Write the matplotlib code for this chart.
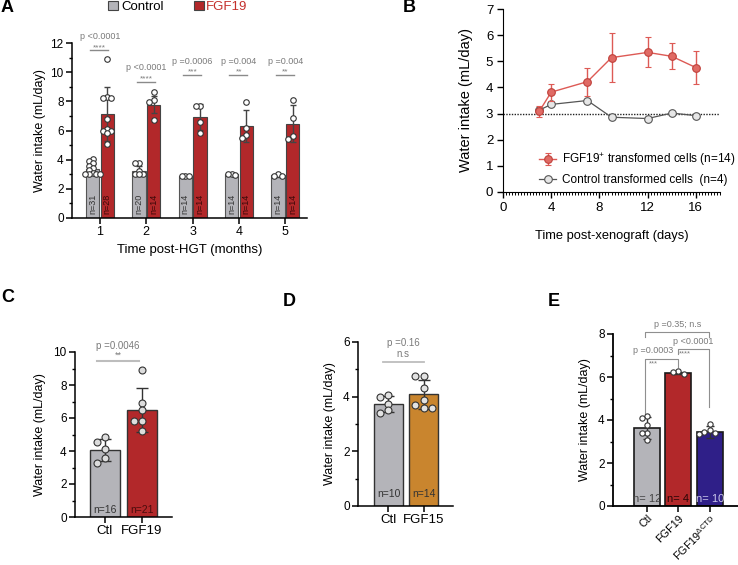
import matplotlib
import numpy as np

matplotlib.use('Agg')
from matplotlib import pyplot as plt
from matplotlib.ticker import MultipleLocator
from matplotlib.patches import Patch

plt.rcParams['font.family'] = ['Liberation Sans', 'DejaVu Sans']
plt.rcParams['mathtext.fontset'] = 'custom'
plt.rcParams['mathtext.rm'] = 'Liberation Sans'
plt.rcParams['mathtext.it'] = 'Liberation Sans:italic'
plt.rcParams['mathtext.bf'] = 'Liberation Sans:bold'

# ---- panel A : water intake after HGT
months = [1, 2, 3, 4, 5]
ctl_mean_a = [3.38, 3.25, 2.88, 3.02, 2.92]
ctl_sd_a = [0.35, 0.35, 0.08, 0.08, 0.08]
fgf_mean_a = [7.13, 7.77, 6.95, 6.32, 6.47]
fgf_sd_a = [1.85, 0.6, 0.9, 1.1, 1.25]
ctl_n_a = [31, 20, 14, 14, 14]
fgf_n_a = [28, 14, 14, 14, 14]
ctl_dots_a = [[4.05, 3.9, 3.75, 3.6, 3.45, 3.3, 3.1, 3.0, 3.0, 3.0, 3.0],
              [3.75, 3.75, 3.2, 3.05, 3.0, 3.05],
              [2.85, 2.9, 2.9],
              [3.0, 3.05, 2.95],
              [2.85, 3.0, 2.9]]
fgf_dots_a = [[10.9, 8.3, 8.2, 8.2, 6.8, 6.1, 6.0, 6.0, 5.8, 5.1],
              [8.65, 8.1, 7.95, 6.75],
              [7.7, 7.7, 6.55, 5.8],
              [7.95, 6.15, 5.5, 5.7],
              [8.1, 6.85, 5.4, 5.6]]
p_a = ['p <0.0001', 'p <0.0001', 'p =0.0006', 'p =0.004', 'p =0.004']
stars_a = ['****', '****', '***', '**', '**']

# ---- panel B : time course after xenograft
days = [3, 4, 7, 9, 12, 14, 16]
fgf_b = [3.08, 3.82, 4.22, 5.14, 5.34, 5.19, 4.76]
fgf_sd_b = [0.2, 0.32, 0.54, 0.94, 0.57, 0.5, 0.64]
ctl_b = [3.13, 3.35, 3.5, 2.86, 2.81, 3.02, 2.92]

# ---- panel C
groups_c = ['Ctl', 'FGF19']
mean_c = [4.05, 6.47]
sd_c = [0.68, 1.33]
n_c = [16, 21]
dots_c = [[4.85, 4.55, 4.1, 3.55, 3.3],
          [8.9, 6.9, 6.5, 5.8, 5.8, 5.2]]

# ---- panel D
groups_d = ['Ctl', 'FGF15']
mean_d = [3.72, 4.08]
sd_d = [0.29, 0.52]
n_d = [10, 14]
dots_d = [[3.99, 4.06, 3.72, 3.41, 3.5],
          [4.74, 4.74, 4.32, 3.6, 3.68, 3.6, 3.87]]

# ---- panel E
groups_e = ['Ctl', 'FGF19', r'FGF19$^{\Delta\mathrm{CTD}}$']
mean_e = [3.63, 6.19, 3.44]
sd_e = [0.5, 0.05, 0.3]
n_e = [12, 4, 10]
dots_e = [[4.1, 4.19, 3.75, 3.41, 3.41, 3.09],
          [6.12, 6.23, 6.28],
          [3.4, 3.52, 3.8, 3.43, 3.36]]

grey = '#b4b4b9'
red = '#b2282a'
orange = '#c9852e'
blue = '#2f1f88'
ptxt = '#7a7a7a'

W, H = 738, 565


def px_axes(fig, x0, x1, y_top, y_bot):
    return fig.add_axes([x0 / W, 1 - y_bot / H, (x1 - x0) / W, (y_bot - y_top) / H])


def swarm(values, step, tol):
    placed = []
    offs = []
    cands = [0.0]
    for i in range(1, 8):
        cands += [-i * step, i * step]
    for v in sorted(values, reverse=True):
        for c in cands:
            if all(abs(c - px) >= step * 0.95 or abs(v - py) >= tol for px, py in placed):
                break
        placed.append((c, v))
        offs.append(c)
    return np.array(offs), np.array(sorted(values, reverse=True))


def style_axis(ax, major, minor, fs=8.5):
    for s in ['top', 'right']:
        ax.spines[s].set_visible(False)
    for s in ['left', 'bottom']:
        ax.spines[s].set_linewidth(1.1)
    ax.yaxis.set_major_locator(MultipleLocator(major))
    ax.yaxis.set_minor_locator(MultipleLocator(minor))
    ax.tick_params(axis='y', which='major', length=4, width=1.1, labelsize=fs, pad=2)
    ax.tick_params(axis='y', which='minor', length=2, width=1.0)
    ax.tick_params(axis='x', which='major', length=4, width=1.1, labelsize=9, pad=2)


def dots(ax, x, vals, step, tol, ms=4, fc='white'):
    o, v = swarm(vals, step, tol)
    ax.plot(x + o, v, 'o', ms=ms, mfc=fc, mec='#333333', mew=0.8, zorder=5, clip_on=False)


fig = plt.figure(figsize=(W / 100, H / 100), dpi=100, facecolor='white')

# ================= A
ax = px_axes(fig, 72, 307, 43, 218)
pos = np.array(months, dtype=float)
bw = 0.29
xc = pos - 0.155
xf = pos + 0.16
ax.bar(xc, ctl_mean_a, width=bw, color=grey, edgecolor='#555555', linewidth=0.8, zorder=2)
ax.bar(xf, fgf_mean_a, width=bw, color=red, edgecolor='#444444', linewidth=0.8, zorder=2)
ax.errorbar(xc, ctl_mean_a, yerr=ctl_sd_a, fmt='none', ecolor='#444444', elinewidth=1, capsize=2.5, zorder=3)
ax.errorbar(xf, fgf_mean_a, yerr=fgf_sd_a, fmt='none', ecolor='#444444', elinewidth=1, capsize=2.5, zorder=3)
for i in range(len(months)):
    dots(ax, xc[i], ctl_dots_a[i], 0.08, 0.16)
    dots(ax, xf[i], fgf_dots_a[i], 0.09, 0.22)
    ax.text(xc[i], 0.3, 'n=%d' % ctl_n_a[i], rotation=90, ha='center', va='bottom', fontsize=6.5, color='#333333', zorder=6)
    ax.text(xf[i], 0.3, 'n=%d' % fgf_n_a[i], rotation=90, ha='center', va='bottom', fontsize=6.5, color='#3a0808', zorder=6)
sig_y_a = [11.5, 9.35, 9.8, 9.8, 9.8]
for i in range(len(months)):
    y = sig_y_a[i]
    ax.plot([xc[i] - 0.05, xf[i] + 0.02], [y, y], color='#8a8a8a', lw=1, clip_on=False)
    ax.text(pos[i], y - 0.05, stars_a[i], ha='center', va='bottom', fontsize=6, color=ptxt)
    ax.text(pos[i], y + 0.65, p_a[i], ha='center', va='bottom', fontsize=6.5, color=ptxt, clip_on=False)
ax.set_xlim(0.4, 5.47)
ax.set_ylim(0, 12)
style_axis(ax, 2, 1)
ax.set_xticks(pos)
ax.set_xticklabels([str(m) for m in months], fontsize=9)
ax.set_ylabel('Water intake (mL/day)', fontsize=9, labelpad=3)
ax.set_xlabel('Time post-HGT (months)', fontsize=9.5, labelpad=4)
leg = fig.legend(handles=[Patch(facecolor=grey, edgecolor='#444444', lw=0.8),
                          Patch(facecolor=red, edgecolor='#444444', lw=0.8)],
                 labels=['Control', 'FGF19'], loc='center', bbox_to_anchor=(178 / W, 1 - 7 / H),
                 ncol=2, frameon=False, fontsize=9.5, handlelength=0.75, handleheight=0.75,
                 handletextpad=0.2, columnspacing=2.3, borderpad=0)
leg.get_texts()[1].set_color('#c4302c')

# ================= B
ax = px_axes(fig, 503, 720, 9, 192)
ax.axhline(3, color='#222222', lw=1, ls=(0, (1, 1)), zorder=1)
ax.plot(days, ctl_b, '-o', color='#555555', lw=0.9, ms=5.5, mfc='#e6e6e6', mec='#555555', mew=0.8,
        zorder=3, label='Control transformed cells  (n=4)')
ax.errorbar(days, fgf_b, yerr=fgf_sd_b, fmt='-o', color='#dd5a55', lw=1, ms=5.5, mfc='#e06a64', mec='#c0403a',
            mew=0.8, ecolor='#dd5a55', elinewidth=1, capsize=2.5, zorder=4,
            label='FGF19$^{+}$ transformed cells (n=14)')
ax.set_xlim(0, 18)
ax.set_ylim(0, 7)
for s in ['top', 'right']:
    ax.spines[s].set_visible(False)
ax.xaxis.set_major_locator(MultipleLocator(4))
ax.xaxis.set_minor_locator(MultipleLocator(0.25))
ax.yaxis.set_major_locator(MultipleLocator(1))
ax.tick_params(which='major', length=4, width=1, labelsize=9.5, pad=3)
ax.tick_params(which='minor', length=2, width=0.7)
ax.set_xticks(range(0, 17, 4))
ax.set_ylabel('Water intake (mL/day)', fontsize=10.5, labelpad=9)
ax.set_xlabel('Time post-xenograft (days)', fontsize=9.3, labelpad=12)
h, l = ax.get_legend_handles_labels()
ax.legend(h[::-1], l[::-1], loc='lower left', bbox_to_anchor=(0.14, 0.0), frameon=False, fontsize=8.5,
          handlelength=1.4, handletextpad=0.5, labelspacing=0.5, borderpad=0)

# ================= C
ax = px_axes(fig, 75, 172, 352, 517)
xs = np.arange(len(groups_c))
ax.bar(xs, mean_c, width=0.81, color=[grey, red], edgecolor='#333333', linewidth=1, zorder=2)
ax.errorbar(xs, mean_c, yerr=sd_c, fmt='none', ecolor='#333333', elinewidth=1, capsize=4, zorder=3)
for i in range(len(groups_c)):
    dots(ax, xs[i], dots_c[i], 0.22, 0.35, ms=5, fc='#dcdcdc')
ax.text(0, 0.45, 'n=%d' % n_c[0], ha='center', va='center', fontsize=7.5, color='#333333', zorder=6)
ax.text(1, 0.45, 'n=%d' % n_c[1], ha='center', va='center', fontsize=7.5, color='#4a0c0c', zorder=6)
ax.plot([-0.22, 0.92], [9.45, 9.45], color='#bdbdbd', lw=1.5, clip_on=False)
ax.text(0.35, 9.55, '**', ha='center', va='bottom', fontsize=6.5, color=ptxt)
ax.text(0.35, 10.35, 'p =0.0046', ha='center', va='center', fontsize=7, color=ptxt, clip_on=False)
ax.set_xlim(-0.81, 1.81)
ax.set_ylim(0, 10)
style_axis(ax, 2, 1)
ax.set_xticks(xs)
ax.set_xticklabels(groups_c, fontsize=9.5)
ax.set_ylabel('Water intake (mL/day)', fontsize=9, labelpad=5)

# ================= D
ax = px_axes(fig, 358, 453, 342, 506)
xs = np.arange(len(groups_d))
ax.bar(xs, mean_d, width=0.82, color=[grey, orange], edgecolor='#333333', linewidth=1, zorder=2)
ax.errorbar(xs, mean_d, yerr=sd_d, fmt='none', ecolor='#333333', elinewidth=1, capsize=4, zorder=3)
for i in range(len(groups_d)):
    dots(ax, xs[i], dots_d[i], 0.24, 0.2, ms=5, fc='#e2e2e2')
for i in range(len(groups_d)):
    ax.text(xs[i], 0.44, 'n=%d' % n_d[i], ha='center', va='center', fontsize=7.5, color='#333333', zorder=6)
ax.plot([-0.15, 0.99], [5.27, 5.27], color='#bdbdbd', lw=1.3, clip_on=False)
ax.text(0.42, 5.57, 'n.s', ha='center', va='center', fontsize=7, color=ptxt)
ax.text(0.42, 5.97, 'p =0.16', ha='center', va='center', fontsize=7, color=ptxt, clip_on=False)
ax.set_xlim(-0.86, 1.82)
ax.set_ylim(0, 6)
style_axis(ax, 2, 1)
ax.set_xticks(xs)
ax.set_xticklabels(groups_d, fontsize=9.5)
ax.set_ylabel('Water intake (mL/day)', fontsize=9, labelpad=5)

# ================= E
ax = px_axes(fig, 613, 738, 334, 506)
xs = np.arange(len(groups_e))
ax.bar(xs, mean_e, width=0.83, color=[grey, red, blue], edgecolor='#1a1a1a', linewidth=1.2, zorder=2)
ax.errorbar(xs, mean_e, yerr=sd_e, fmt='none', ecolor='#333333', elinewidth=1, capsize=3, zorder=3)
for i in range(len(groups_e)):
    dots(ax, xs[i], dots_e[i], 0.17, 0.25, ms=3.8)
n_cols = ['#444444', '#2a0505', '#c9c6ea']
for i in range(len(groups_e)):
    ax.text(xs[i], 0.33, 'n= %d' % n_e[i], ha='center', va='center', fontsize=8, color=n_cols[i], zorder=6)
bk = '#8f8f8f'
ax.plot([-0.06, -0.06, 0.99, 0.99], [4.3, 6.86, 6.86, 6.47], color=bk, lw=0.8, clip_on=False)
ax.text(0.19, 7.03, 'p =0.0003', ha='center', va='bottom', fontsize=6.5, color=ptxt, clip_on=False)
ax.text(0.2, 6.45, '***', ha='center', va='bottom', fontsize=5.5, color=ptxt)
ax.plot([0.99, 0.99, 1.98, 1.98], [7.07, 7.3, 7.3, 4.6], color=bk, lw=0.8, clip_on=False)
ax.text(1.48, 7.45, 'p <0.0001', ha='center', va='bottom', fontsize=6.5, color=ptxt, clip_on=False)
ax.text(1.22, 6.9, '****', ha='center', va='bottom', fontsize=5.5, color=ptxt)
ax.plot([-0.06, -0.06, 1.98, 1.98], [7.86, 8.09, 8.09, 7.86], color=bk, lw=0.8, clip_on=False)
ax.text(0.97, 8.25, 'p =0.35; n.s', ha='center', va='bottom', fontsize=6.5, color=ptxt, clip_on=False)
ax.set_xlim(-1.09, 2.9)
ax.set_ylim(0, 8)
style_axis(ax, 2, 1)
ax.spines['left'].set_linewidth(1.3)
ax.spines['bottom'].set_linewidth(1.3)
ax.set_xticks(xs)
ax.set_xticklabels(groups_e, fontsize=7.8, rotation=45, ha='right', rotation_mode='anchor')
ax.tick_params(axis='x', pad=1)
ax.set_ylabel('Water intake (mL/day)', fontsize=9, labelpad=5)

# panel letters
for letter, x, y in [('A', 1, 8), ('B', 403, 8), ('C', 1, 298), ('D', 283, 301), ('E', 548, 302)]:
    fig.text(x / W, 1 - y / H, letter, fontsize=13, fontweight='bold', ha='left', va='center')

fig.savefig('out.png', dpi=100, facecolor='white')
